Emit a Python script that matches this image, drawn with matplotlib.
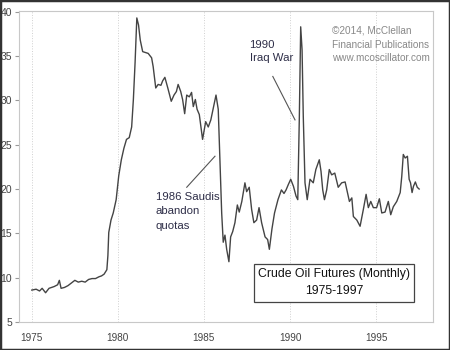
import matplotlib.pyplot as plt
from matplotlib.patches import Rectangle

# (decimal year, price)
years = [1975.00, 1975.25, 1975.45, 1975.6, 1975.8, 1976.0, 1976.3, 1976.5, 1976.6, 1976.7,
         1976.9, 1977.1, 1977.3, 1977.5, 1977.7, 1977.9, 1978.1, 1978.3, 1978.5, 1978.7,
         1978.9, 1979.05, 1979.2, 1979.36, 1979.42, 1979.47, 1979.6, 1979.73, 1979.9, 1980.05,
         1980.2, 1980.35, 1980.5, 1980.66, 1980.8, 1980.9, 1981.0, 1981.1, 1981.2, 1981.3,
         1981.44, 1981.6, 1981.76, 1981.96, 1982.05, 1982.2, 1982.34, 1982.5, 1982.6, 1982.73,
         1982.9, 1983.1, 1983.26, 1983.4, 1983.5, 1983.65, 1983.76, 1983.88, 1984.0, 1984.15,
         1984.28, 1984.38, 1984.5, 1984.6, 1984.73, 1984.92, 1985.1, 1985.25, 1985.4, 1985.55,
         1985.7, 1985.83, 1985.93, 1986.03, 1986.12, 1986.22, 1986.32, 1986.45, 1986.55, 1986.67,
         1986.8, 1986.94, 1987.05, 1987.2, 1987.38, 1987.48, 1987.63, 1987.77, 1987.9, 1988.06,
         1988.2, 1988.35, 1988.55, 1988.7, 1988.8, 1988.95, 1989.1, 1989.3, 1989.5, 1989.65,
         1989.77, 1989.9, 1990.04, 1990.2, 1990.35, 1990.45, 1990.54, 1990.62, 1990.7, 1990.77,
         1990.87, 1991.0, 1991.16, 1991.35, 1991.5, 1991.7, 1991.8, 1991.9, 1992.0, 1992.13,
         1992.28, 1992.42, 1992.6, 1992.8, 1993.0, 1993.2, 1993.3, 1993.45, 1993.59, 1993.68,
         1993.88, 1994.07, 1994.26, 1994.42, 1994.55, 1994.69, 1994.84, 1995.03, 1995.19, 1995.33,
         1995.52, 1995.71, 1995.85, 1996.0, 1996.2, 1996.4, 1996.49, 1996.58, 1996.69, 1996.82,
         1996.92, 1997.0, 1997.09, 1997.17, 1997.28, 1997.39, 1997.5]
prices = [8.6, 8.7, 8.5, 8.8, 8.3, 8.8, 9.0, 9.2, 9.7, 8.8,
          8.9, 9.1, 9.4, 9.7, 9.5, 9.6, 9.5, 9.8, 9.9, 9.9,
          10.1, 10.2, 10.4, 10.9, 12.5, 15.1, 16.5, 17.3, 18.8, 21.5,
          23.3, 24.6, 25.6, 25.8, 27.0, 30.1, 34.3, 39.3, 38.5, 36.8,
          35.5, 35.4, 35.3, 34.8, 33.8, 31.4, 31.8, 31.7, 32.2, 32.6,
          31.4, 29.9, 30.6, 31.0, 31.8, 31.0, 30.1, 28.5, 30.6, 30.4,
          30.9, 29.3, 30.1, 29.0, 28.4, 25.6, 27.6, 27.0, 27.8, 29.2,
          30.6, 29.0, 23.3, 17.3, 14.0, 14.8, 13.2, 11.8, 14.6, 15.2,
          16.2, 18.2, 17.4, 18.6, 20.7, 19.7, 20.2, 17.7, 16.2, 16.5,
          17.9, 16.2, 14.6, 14.3, 13.2, 15.5, 17.3, 18.8, 19.9, 19.5,
          19.9, 20.5, 21.1, 20.3, 19.2, 18.8, 28.0, 38.3, 35.7, 28.2,
          20.7, 18.8, 21.1, 20.7, 22.2, 23.3, 22.0, 19.9, 18.8, 19.9,
          22.2, 21.6, 21.8, 20.2, 20.7, 20.8, 19.9, 18.6, 19.0, 16.9,
          16.5, 15.8, 17.7, 19.4, 17.9, 18.6, 17.9, 17.9, 18.9, 17.3,
          17.4, 18.6, 17.1, 18.0, 18.6, 19.6, 21.4, 23.9, 23.5, 23.7,
          21.1, 20.7, 19.6, 20.3, 20.8, 20.2, 20.0]

xticks = [1975, 1980, 1985, 1990, 1995]
yticks = [5, 10, 15, 20, 25, 30, 35, 40]

narrow = ['Liberation Sans Narrow', 'Liberation Sans', 'DejaVu Sans']
plt.rcParams['font.family'] = narrow

fig = plt.figure(figsize=(4.5, 3.5), dpi=100)
ax = fig.add_axes([0.042, 0.08, 0.92, 0.889])

ax.plot(years, prices, color='#444444', lw=1.0)
ax.set_xlim(1974.25, 1998.3)
ax.set_ylim(5, 40.1)
ax.set_xticks(xticks)
ax.set_yticks(yticks)
ax.tick_params(axis='x', length=0, labelsize=7.2, colors='#444444', pad=8)
ax.tick_params(axis='y', length=3, labelsize=7.5, colors='#444444', color='#999999', pad=2)
ax.grid(axis='x', color='#d0d0d0', lw=0.7, ls=':')
for s in ax.spines.values():
    s.set_color('#c8c8c8')
    s.set_linewidth(0.8)

ann = '#2e2e48'
ax.text(1982.2, 19.7, '1986 Saudis\nabandon\nquotas', fontsize=8.2, color=ann,
        va='top', ha='left', linespacing=1.6)
ax.plot([1984.0, 1985.64], [20.2, 23.7], color='#555555', lw=0.8)
ax.text(1987.65, 36.8, '1990\nIraq War', fontsize=8.2, color=ann,
        va='top', ha='left', linespacing=1.4)
ax.plot([1989.0, 1990.29], [32.7, 27.8], color='#555555', lw=0.8)

ax.text(1992.45, 38.4, '\u00a92014, McClellan\nFinancial Publications\nwww.mcoscillator.com',
        fontsize=7.2, color='#888888', va='top', ha='left', linespacing=1.45)

ax.text(1988.15, 11.1, 'Crude Oil Futures (Monthly)\n1975-1997', fontsize=8.8, color='#111111',
        va='top', ha='left', linespacing=1.6, multialignment='center',
        bbox=dict(boxstyle='square,pad=0.35', fc='white', ec='#444444', lw=0.9))

fig.patches.append(Rectangle((0, 0), 1, 1, transform=fig.transFigure, fill=False,
                             ec='#333333', lw=2.5))

fig.savefig('out.png', dpi=100)
